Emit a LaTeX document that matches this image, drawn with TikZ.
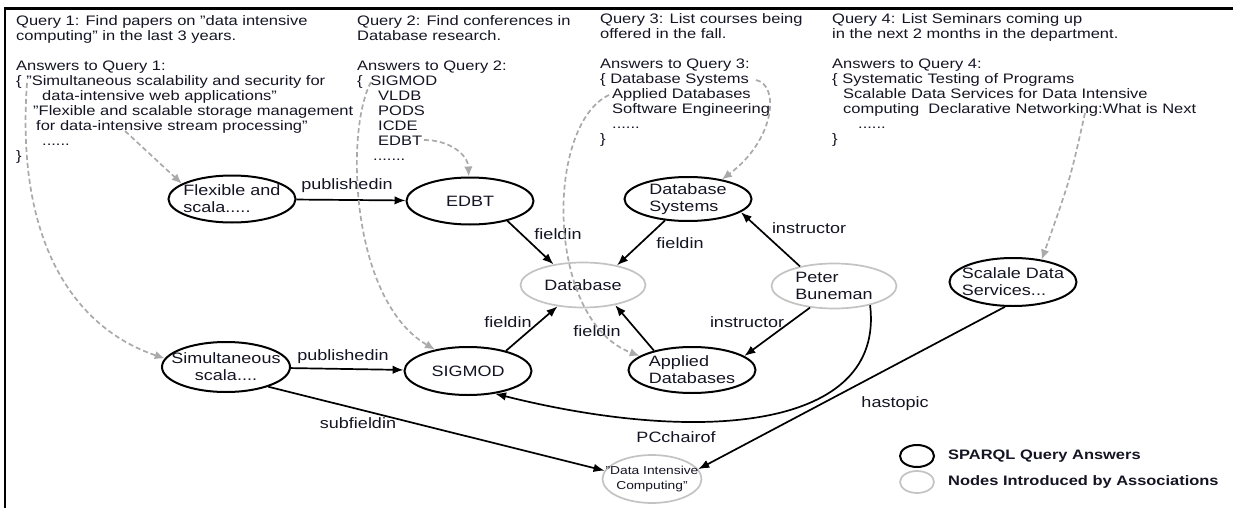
\documentclass[tikz,border=0pt]{standalone}
\usepackage{fontspec}
\setmainfont{Liberation Sans}[FakeStretch=1.2]
\usetikzlibrary{shapes.geometric,arrows.meta}
\definecolor{dgray}{RGB}{170,170,170}
\definecolor{lgray}{RGB}{195,195,195}
\definecolor{txt}{RGB}{20,20,35}
\begin{document}
\begin{tikzpicture}[x=1pt,y=-1pt,
  ansnode/.style={ellipse,draw=black,line width=2pt,minimum width=127pt,minimum height=47pt,inner sep=0pt},
  assocnode/.style={ellipse,draw=lgray,line width=1.7pt,minimum width=125pt,minimum height=45pt,inner sep=0pt},
  ntext/.style={font=\fontsize{15}{17}\selectfont,align=left,inner sep=0pt,text=txt},
  qtext/.style={font=\fontsize{13.75}{15}\selectfont,align=left,inner sep=0pt,anchor=north west,text=txt},
  elabel/.style={font=\fontsize{15}{17}\selectfont,inner sep=0pt,text=txt},
  legtext/.style={font=\fontsize{13.7}{16}\selectfont\bfseries,inner sep=0pt,anchor=west,text=txt},
  relarrow/.style={draw=black,line width=1.7pt,-{Latex[length=11pt,width=8.5pt]}},
  linkarrow/.style={draw=dgray,line width=1.7pt,dash pattern=on 5pt off 3pt,-{Latex[length=10pt,width=8.5pt]}}
]
\useasboundingbox (0,0) rectangle (1233,508);
% frame
\draw[line width=3pt] (4,9) -- (1233,9);
\draw[line width=2pt] (5,9) -- (5,508);

% query blocks
\node[qtext] (q1) at (16,15) {Query 1: Find papers on "data intensive\\computing" in the last 3 years.\\[15pt]Answers to Query 1:\\\{ "Simultaneous scalability and security for\\\hspace*{26pt}data-intensive web applications"\\\hspace*{17pt}"Flexible and scalable storage management\\\hspace*{20pt}for data-intensive stream processing"\\\hspace*{26pt}......\\\}};
\node[qtext] (q2) at (357,15) {Query 2: Find conferences in\\Database research.\\[15pt]Answers to Query 2:\\\{ \hspace{3pt}SIGMOD\\\hspace*{21pt}VLDB\\\hspace*{21pt}PODS\\\hspace*{21pt}ICDE\\\hspace*{21pt}EDBT\\\hspace*{16pt}.......};
\node[qtext] (q3) at (600,13) {Query 3: List courses being\\offered in the fall.\\[15pt]Answers to Query 3:\\\{ Database Systems\\\hspace*{12pt}Applied Databases\\\hspace*{12pt}Software Engineering\\\hspace*{12pt}......\\\}};
\node[qtext] (q4) at (832,13) {Query 4: List Seminars coming up\\in the next 2 months in the department.\\[15pt]Answers to Query 4:\\\{ Systematic Testing of Programs\\\hspace*{11pt}Scalable Data Services for Data Intensive\\\hspace*{11pt}computing\ \ Declarative Networking:What is Next\\\hspace*{26pt}......\\\}};

% graph nodes
\node[ansnode] (flex) at (232,199) {};
\node[ntext] (flext) at (flex) {Flexible and\\scala.....};
\node[ansnode] (edbt) at (470,201) {};
\node[ntext] (edbtt) at (edbt) {EDBT};
\node[assocnode] (db) at (583,285) {};
\node[ntext] (dbt) at (db) {Database};
\node[ansnode,minimum height=44pt] (dbs) at (688,199) {};
\node[ntext] (dbst) at (dbs) {Database\\Systems};
\node[assocnode] (peter) at (834,286) {};
\node[ntext] (petert) at (peter) {Peter\\Buneman};
\node[ansnode,minimum height=48pt] (scal) at (1013,282) {};
\node[ntext] (scalt) at (scal) {Scalale Data\\Services...};
\node[ansnode,minimum width=128pt,minimum height=50pt] (sim) at (226,367) {};
\node[ntext,align=center] (simt) at (sim) {Simultaneous\\scala....};
\node[ansnode,minimum height=48pt] (sigmod) at (468,371) {};
\node[ntext] (sigmodt) at (sigmod) {SIGMOD};
\node[ansnode,minimum height=46pt] (applied) at (692,370) {};
\node[ntext] (appliedt) at (applied) {Applied\\Databases};
\node[assocnode,minimum width=99pt,minimum height=48pt] (dic) at (652,479) {};
\node[ntext,align=center,font=\fontsize{11.5}{15}\selectfont] (dict) at (dic) {"Data Intensive\\Computing"};

% relations
\draw[relarrow] (flex) -- (edbt);
\draw[relarrow] (edbt.-28) -- (db.145);
\draw[relarrow] (sigmod.28) -- (db.-140);
\draw[relarrow] (applied.153) -- (db.-32);
\draw[relarrow] (dbs.-137) -- (db.30);
\draw[relarrow] (peter.150) -- (dbs.-14);
\draw[relarrow] (peter.-138) -- (applied.15);
\draw[relarrow] (peter.-28) .. controls (885,430) and (700,445) .. (sigmod.-40);
\draw[relarrow] (scal.-108) -- (dic.12);
\draw[relarrow] (sim) -- (sigmod);
\draw[relarrow] (sim.-25) -- (dic.170);

% edge labels
\node[elabel] (l1) at (347,186) {publishedin};
\node[elabel] (l2) at (343,357) {publishedin};
\node[elabel] (l3) at (558,234) {fieldin};
\node[elabel] (l4) at (508,322) {fieldin};
\node[elabel] (l5) at (597,331) {fieldin};
\node[elabel] (l6) at (680,243) {fieldin};
\node[elabel] (l7) at (809,228) {instructor};
\node[elabel] (l8) at (747,322) {instructor};
\node[elabel] (l9) at (676,437) {PCchairof};
\node[elabel] (l10) at (895,404) {hastopic};
\node[elabel] (l11) at (358,423) {subfieldin};

% association links
\coordinate (s1) at (27,83);
\coordinate (s2) at (125,131);
\coordinate (s3) at (371,82);
\coordinate (s4) at (424,140);
\coordinate (s5) at (609,95);
\coordinate (s6) at (756,80);
\coordinate (s7) at (1085,113);
\draw[linkarrow] (s1) .. controls (15,250) and (80,330) .. (sim.172);
\draw[linkarrow] (s2) -- (flex.163);
\draw[linkarrow] (s3) .. controls (345,130) and (350,300) .. (sigmod.147);
\draw[linkarrow] (s4) .. controls (450,140) and (468,155) .. (edbt.93);
\draw[linkarrow] (s5) .. controls (545,125) and (545,320) .. (applied.165);
\draw[linkarrow] (s6) .. controls (780,85) and (775,140) .. (dbs.30);
\draw[linkarrow] (s7) .. controls (1070,180) .. (scal.38);

% legend
\node[ellipse,draw=black,line width=2pt,minimum width=34pt,minimum height=22pt,inner sep=0pt] (leg1) at (917,456) {};
\node[legtext] (leg1t) at (948,456) {SPARQL Query Answers};
\node[ellipse,draw=lgray,line width=1.7pt,minimum width=34pt,minimum height=22pt,inner sep=0pt] (leg2) at (917,482) {};
\node[legtext] (leg2t) at (948,482) {Nodes Introduced by Associations};
\end{tikzpicture}
\end{document}
